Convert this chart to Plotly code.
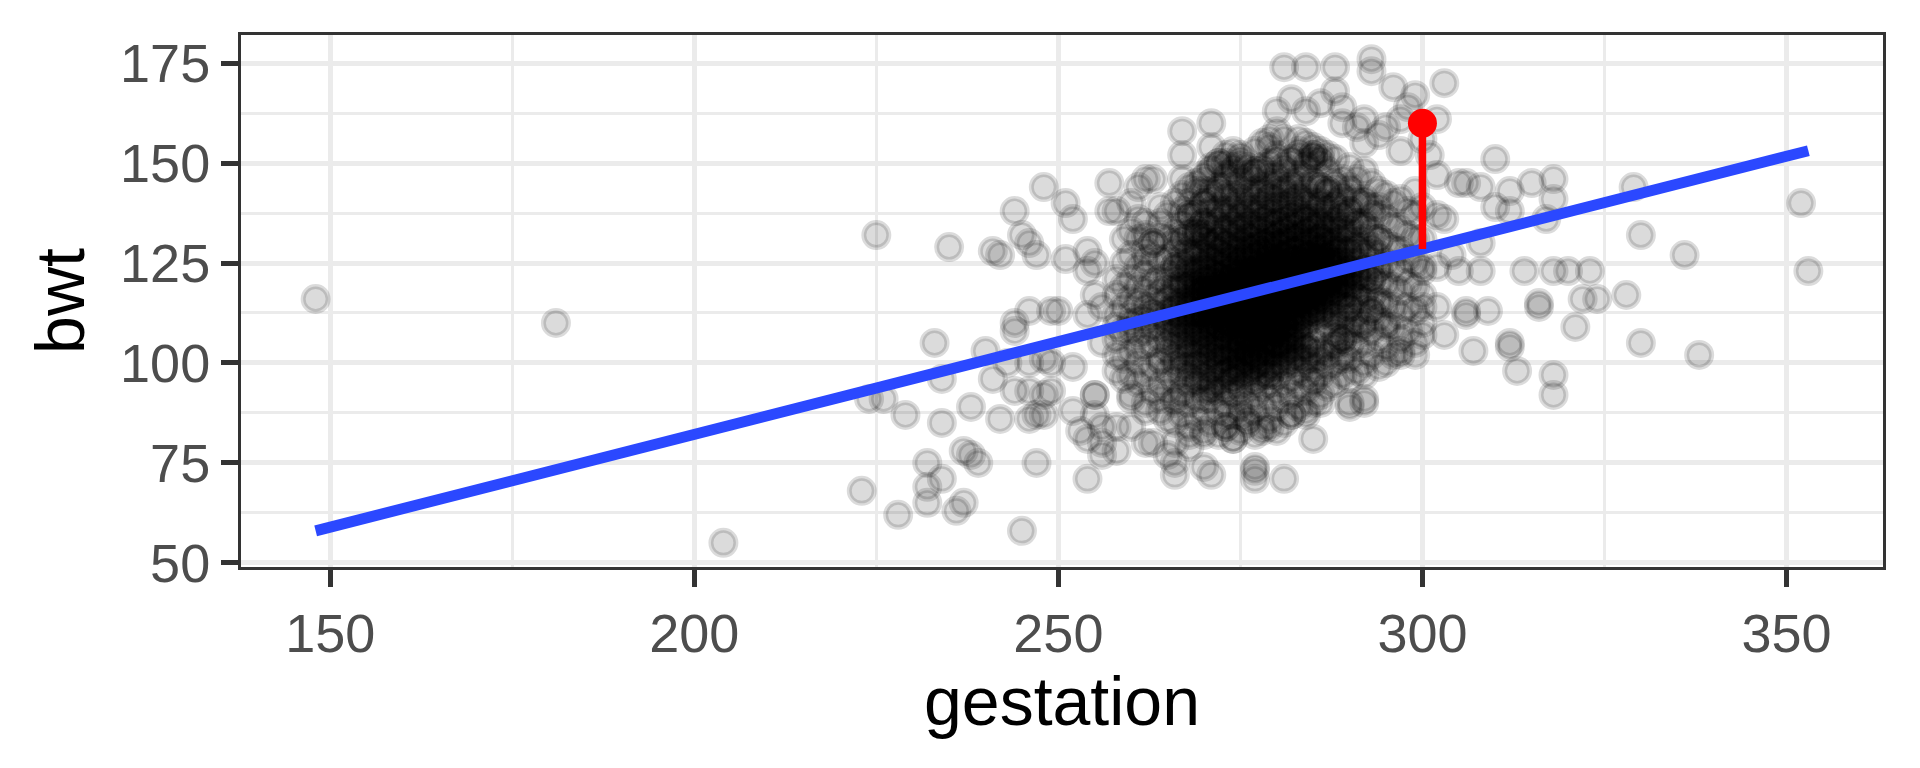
import plotly.graph_objects as go

# ---------------- data ----------------
# scattered / peripheral points: gestation (days), bwt (oz)
outer_gestation = [
    148, 181, 204,
    225, 235, 241, 242, 244, 245, 246, 247, 248, 251, 252, 251, 254, 255, 254,
    257, 257, 258, 261, 263, 260, 261, 260, 259, 262, 263, 262, 264, 267, 267,
    267, 271, 271, 270, 268, 269, 270, 281, 284, 288, 282, 280, 284, 286, 288,
    289, 279, 283, 275, 273, 293, 293,
    233, 240, 234, 241, 244, 246, 244, 243, 246, 246, 244, 248, 249, 224, 226,
    229, 234, 238, 242, 246, 247, 248, 232, 237, 238, 239, 247, 232, 234, 232,
    228, 236, 237, 245, 223, 249, 250, 255, 254, 256, 249, 252, 248, 255, 255,
    252, 255, 256, 253, 254, 256, 258, 256, 260, 262, 258, 254, 260, 260, 262,
    261, 258, 256, 265, 264, 266, 266, 268, 268, 266, 271, 277, 277, 281, 274,
    275, 273, 279, 285, 282, 284, 286, 290, 266, 270, 271, 267, 275, 279, 285,
    289, 288, 292,
    352, 353, 330, 336, 329, 330, 338, 328, 324, 322, 323, 320, 318, 314, 321,
    318, 318, 313, 312, 312, 316, 316, 318, 318, 317, 315, 312, 310, 312, 310,
    308, 309, 307, 308, 303, 296, 299, 302, 301, 302, 299, 305, 306, 308, 303,
    302, 305, 306, 303, 300, 299, 295, 292, 290, 292, 295, 297, 300, 302, 306,
    300, 304,
    292, 295, 297, 298, 262, 292, 294, 297, 300, 302, 277, 285, 286, 286, 285,
    287, 289, 291, 276, 278, 273, 270, 270, 277, 265, 264, 263, 297,
]
outer_bwt = [
    116, 110, 55,
    132, 129, 128, 127, 138, 132, 130, 127, 144, 140, 136, 126, 128, 125, 123,
    145, 138, 138, 144, 146, 140, 136, 133, 131, 132, 130, 126, 135, 158, 152,
    146, 160, 154, 143, 137, 133, 132, 174, 174, 174, 166, 163, 163, 165, 168,
    164, 156, 156, 150, 150, 176, 173,
    105, 103, 96, 96, 108, 113, 110, 100, 100, 93, 93, 92, 93, 91, 91,
    87, 85, 89, 86, 86, 87, 87, 75, 78, 77, 75, 75, 69, 71, 65,
    62, 63, 65, 58, 68, 113, 113, 117, 112, 114, 100, 99, 101, 92, 92,
    88, 87, 84, 83, 81, 80, 78, 77, 84, 80, 84, 71, 97, 91, 88,
    104, 102, 105, 105, 100, 75, 72, 79, 82, 80, 72, 73, 71, 71, 81,
    87, 84, 84, 81, 87, 87, 90, 90, 90, 91, 93, 93, 99, 97, 96,
    101, 107, 91,
    140, 123, 132, 127, 144, 105, 102, 117, 116, 116, 123, 123, 123, 123, 109,
    97, 92, 98, 105, 104, 115, 114, 146, 141, 136, 145, 143, 139, 138, 151,
    123, 113, 103, 130, 170, 169, 167, 161, 152, 147, 143, 145, 145, 144, 136,
    124, 123, 113, 107, 107, 102, 109, 90, 89, 97, 100, 102, 114, 114, 112,
    123, 127,
    161, 159, 161, 164, 146, 155, 157, 153, 156, 137, 148, 152, 153, 151, 154,
    152, 160, 159, 86, 83, 87, 82, 74, 74, 77, 91, 80, 103,
]

# dense core: birth weights listed per gestation day
core_days = [258, 259, 260, 261, 262, 263, 264, 265, 266, 267, 268, 269, 270,
             271, 272, 273, 274, 275, 276, 277, 278, 279, 280, 281, 282, 283,
             284, 285, 286, 287, 288, 289, 290, 291, 292, 293, 294, 295, 296,
             297, 298, 299, 300]
core_bwt = [
    [98, 106, 112, 117, 121, 109],
    [101, 108, 114, 119, 125, 96],
    [92, 103, 108, 112, 116, 121, 127, 110],
    [95, 100, 107, 111, 115, 119, 124, 131],
    [90, 97, 104, 108, 111, 114, 118, 122, 128, 135],
    [93, 99, 105, 109, 113, 116, 120, 125, 130, 112],
    [88, 95, 101, 106, 109, 112, 115, 118, 121, 126, 132, 139],
    [86, 93, 98, 103, 107, 110, 113, 116, 119, 122, 126, 131, 137, 111],
    [85, 91, 96, 100, 104, 107, 110, 112, 115, 118, 121, 124, 128, 133, 140, 113],
    [87, 92, 97, 101, 104, 107, 109, 112, 114, 116, 119, 121, 124, 127, 131, 135, 142, 110],
    [84, 90, 95, 99, 102, 105, 108, 110, 112, 114, 116, 118, 120, 122, 125, 128, 132, 137, 144, 113],
    [86, 91, 96, 99, 102, 105, 107, 109, 111, 113, 115, 117, 119, 121, 123, 126, 129, 133, 138, 145, 112, 118],
    [83, 88, 93, 97, 100, 103, 105, 107, 109, 111, 113, 114, 116, 118, 119, 121, 123, 125, 128, 131, 135, 140, 147, 112, 117, 120],
    [85, 91, 95, 99, 102, 104, 107, 109, 111, 113, 115, 117, 119, 121, 123, 126, 129, 132, 136, 141, 148, 114, 118, 110],
    [82, 88, 93, 97, 100, 103, 105, 107, 109, 110, 112, 114, 115, 117, 118, 120, 122, 124, 126, 128, 131, 134, 138, 143, 150, 116, 119, 113],
    [84, 90, 94, 98, 101, 103, 106, 108, 110, 111, 113, 115, 116, 118, 119, 121, 123, 125, 127, 130, 133, 137, 141, 146, 114, 117, 120, 109],
    [81, 87, 92, 96, 99, 102, 104, 106, 108, 110, 111, 113, 114, 116, 117, 119, 120, 122, 124, 126, 128, 131, 134, 138, 142, 148, 115, 118, 112, 121],
    [83, 89, 93, 97, 100, 102, 104, 106, 108, 109, 111, 112, 114, 115, 117, 118, 119, 121, 122, 124, 126, 128, 130, 133, 136, 140, 145, 152, 116, 120, 113, 110],
    [85, 90, 95, 98, 101, 103, 105, 107, 109, 110, 112, 114, 115, 117, 118, 120, 121, 123, 125, 127, 129, 132, 135, 139, 143, 149, 116, 119, 113, 122],
    [82, 88, 92, 96, 99, 102, 104, 106, 108, 110, 111, 113, 114, 116, 117, 119, 120, 122, 123, 125, 127, 129, 131, 134, 137, 141, 146, 153, 118, 121, 115, 112],
    [84, 89, 94, 97, 100, 103, 105, 107, 109, 111, 112, 114, 115, 117, 118, 120, 121, 123, 124, 126, 128, 130, 133, 136, 139, 143, 148, 155, 119, 116, 122, 113],
    [86, 91, 95, 99, 102, 104, 106, 108, 110, 112, 113, 115, 116, 118, 119, 121, 122, 124, 126, 128, 130, 132, 135, 138, 142, 147, 154, 120, 117, 123],
    [83, 89, 93, 97, 100, 103, 105, 107, 109, 111, 113, 114, 116, 117, 119, 120, 122, 123, 125, 126, 128, 130, 132, 135, 138, 141, 145, 151, 158, 121, 118, 124],
    [85, 91, 95, 99, 102, 105, 107, 109, 111, 113, 114, 116, 117, 119, 120, 122, 123, 125, 127, 129, 131, 133, 136, 139, 143, 148, 156, 121, 118, 124],
    [87, 92, 96, 100, 103, 106, 108, 110, 112, 114, 115, 117, 118, 120, 121, 123, 124, 126, 128, 130, 132, 134, 137, 140, 144, 150, 122, 119, 125, 116],
    [89, 94, 98, 101, 104, 107, 109, 111, 113, 115, 116, 118, 119, 121, 122, 124, 126, 128, 130, 132, 135, 138, 142, 147, 153, 120, 123, 117],
    [88, 93, 97, 101, 104, 107, 109, 112, 114, 116, 117, 119, 120, 122, 123, 125, 127, 129, 131, 133, 136, 139, 143, 149, 121, 124, 118, 155],
    [90, 95, 99, 103, 111, 113, 115, 117, 118, 120, 121, 123, 125, 127, 129, 131, 134, 137, 141, 146, 152, 122, 119, 126, 116, 113],
    [92, 97, 101, 112, 114, 116, 118, 120, 121, 123, 125, 127, 129, 131, 134, 137, 140, 144, 150, 122, 119, 126, 117, 132],
    [94, 99, 102, 112, 115, 117, 119, 121, 123, 125, 127, 129, 131, 133, 136, 139, 143, 148, 122, 120, 126, 118],
    [95, 100, 104, 108, 112, 115, 118, 120, 122, 124, 126, 128, 130, 133, 136, 140, 145, 151, 121, 125],
    [97, 102, 106, 110, 114, 117, 120, 122, 124, 126, 128, 131, 134, 137, 141, 146, 123, 119],
    [96, 101, 105, 110, 114, 117, 120, 123, 125, 128, 131, 134, 138, 143, 149, 122],
    [98, 104, 108, 112, 116, 119, 122, 125, 128, 131, 135, 140, 146, 121],
    [100, 105, 110, 114, 118, 121, 124, 127, 131, 135, 141, 148],
    [102, 108, 113, 117, 121, 124, 128, 133, 139, 145],
    [99, 106, 111, 116, 120, 124, 127, 131, 137, 143],
    [104, 110, 115, 120, 125, 130, 136, 142],
    [102, 109, 114, 119, 124, 129, 134, 140],
    [106, 112, 118, 123, 128, 134, 141],
    [108, 114, 120, 126, 132, 138],
    [105, 113, 119, 125, 131, 137],
    [110, 117, 124, 131, 139],
]

# second layer of the densest part (more births on the same days)
core2_days = [266, 267, 268, 269, 270, 271, 272, 273, 274, 275, 276, 277, 278,
              279, 280, 281, 282, 283, 284, 285, 286, 287, 288, 289, 290, 291,
              292, 293, 294]
core2_bwt = [
    [101, 108, 114, 119, 124, 130],
    [99, 105, 111, 115, 120, 125, 131, 138],
    [97, 103, 107, 111, 115, 119, 123, 127, 133, 140],
    [95, 100, 104, 108, 112, 116, 120, 124, 128, 132, 137, 143],
    [96, 101, 105, 108, 112, 115, 118, 121, 124, 127, 131, 135, 140, 146],
    [94, 98, 102, 106, 109, 112, 115, 118, 121, 124, 127, 130, 134, 138, 143, 149],
    [95, 99, 103, 106, 109, 112, 114, 117, 119, 122, 125, 128, 131, 135, 139, 144, 150, 101],
    [93, 97, 101, 104, 107, 110, 113, 116, 118, 121, 124, 127, 130, 134, 138, 142, 147, 152],
    [96, 100, 103, 106, 109, 112, 114, 117, 119, 121, 123, 126, 129, 132, 135, 139, 144, 149, 153, 98],
    [94, 98, 101, 104, 107, 110, 113, 115, 118, 120, 123, 125, 128, 131, 134, 137, 141, 146, 151, 105],
    [97, 100, 103, 106, 108, 111, 113, 116, 118, 121, 123, 126, 128, 131, 134, 138, 142, 147, 102, 110],
    [95, 99, 102, 105, 107, 110, 112, 115, 117, 119, 122, 124, 127, 129, 132, 135, 139, 143, 148, 101, 109, 114],
    [98, 101, 104, 106, 109, 111, 114, 116, 118, 121, 123, 125, 128, 130, 133, 136, 140, 144, 149, 103, 108, 113],
    [97, 100, 103, 106, 108, 111, 114, 116, 119, 121, 124, 126, 129, 131, 134, 137, 141, 145, 150, 105, 110, 127],
    [99, 102, 105, 108, 110, 113, 115, 118, 120, 122, 125, 127, 130, 132, 135, 139, 143, 147, 152, 104, 112, 117],
    [100, 103, 106, 109, 112, 115, 117, 120, 122, 125, 127, 130, 133, 136, 140, 144, 149, 104, 110, 119],
    [101, 104, 107, 110, 113, 116, 118, 121, 123, 126, 128, 131, 134, 137, 141, 145, 151, 106, 112, 120],
    [102, 106, 109, 112, 115, 118, 120, 123, 125, 128, 131, 134, 137, 141, 146, 152, 111, 117],
    [100, 104, 110, 113, 116, 119, 122, 124, 127, 130, 133, 136, 140, 144, 150, 115, 121, 126],
    [101, 105, 112, 115, 118, 121, 124, 127, 130, 133, 136, 140, 145, 151, 117, 123],
    [103, 108, 113, 116, 119, 122, 125, 128, 131, 135, 139, 144, 120, 127],
    [104, 110, 114, 118, 121, 124, 127, 130, 134, 138, 143, 120],
    [105, 111, 116, 119, 122, 125, 128, 131, 135, 139, 144, 118],
    [106, 112, 117, 121, 125, 129, 133, 137, 142, 120],
    [108, 114, 119, 124, 128, 133, 138, 144],
    [110, 117, 123, 129, 135, 141],
    [109, 116, 122, 128, 134, 140],
    [113, 121, 129, 137],
    [115, 123, 131, 139],
]

# fitted regression line (end points)
fit_gestation = [148, 353]
fit_bwt = [58.0, 153.1]

# highlighted observation and its residual
hl_gestation = [300]
hl_bwt = [160]
hl_fitted = [128.5]

x_ticks = [150, 200, 250, 300, 350]
y_ticks = [50, 75, 100, 125, 150, 175]
x_minor = [175, 225, 275, 325]
y_minor = [62.5, 87.5, 112.5, 137.5, 162.5]

# ---------------- assemble ----------------
gest_all = list(outer_gestation)
bwt_all = list(outer_bwt)
for days, lists in ((core_days, core_bwt), (core2_days, core2_bwt)):
    for d, vals in zip(days, lists):
        gest_all.extend([d] * len(vals))
        bwt_all.extend(vals)

FONT = "Liberation Sans, Arial, Helvetica, sans-serif"
pt_col = "rgba(0,0,0,0.14)"

fig = go.Figure()
fig.add_trace(go.Scatter(
    x=gest_all, y=bwt_all, mode="markers",
    marker=dict(size=25, color=pt_col, line=dict(color=pt_col, width=5)),
    hoverinfo="skip", showlegend=False,
))
fig.add_trace(go.Scatter(
    x=fit_gestation, y=fit_bwt, mode="lines",
    line=dict(color="#2B48FF", width=11), showlegend=False, hoverinfo="skip",
))
fig.add_trace(go.Scatter(
    x=hl_gestation * 2, y=hl_bwt + hl_fitted, mode="lines",
    line=dict(color="#FF0000", width=7.5), showlegend=False, hoverinfo="skip",
))
fig.add_trace(go.Scatter(
    x=hl_gestation, y=hl_bwt, mode="markers",
    marker=dict(size=29, color="#FF0000"), showlegend=False, hoverinfo="skip",
))

axis_common = dict(
    showgrid=True, gridcolor="#EBEBEB", gridwidth=5,
    zeroline=False, showline=True, mirror=True,
    linecolor="#333333", linewidth=3,
    ticks="outside", ticklen=17, tickwidth=5, tickcolor="#333333",
    tickfont=dict(family=FONT, size=54, color="#4D4D4D"),
)

fig.update_xaxes(
    range=[137.75, 363.25], tickvals=x_ticks, ticktext=[str(v) for v in x_ticks],
    minor=dict(tickvals=x_minor, showgrid=True, gridcolor="#EBEBEB", gridwidth=2.5, ticks=""),
    title=dict(text="gestation", font=dict(family=FONT, size=68, color="#000000"), standoff=14),
    **axis_common,
)
fig.update_yaxes(
    range=[48.95, 182.05], tickvals=y_ticks, ticktext=[str(v) for v in y_ticks],
    minor=dict(tickvals=y_minor, showgrid=True, gridcolor="#EBEBEB", gridwidth=2.5, ticks=""),
    title=dict(text="bwt", font=dict(family=FONT, size=68, color="#000000"), standoff=14),
    **axis_common,
)

fig.update_layout(
    width=1920, height=768,
    margin=dict(l=241, r=37, t=35, b=201, autoexpand=False),
    paper_bgcolor="white", plot_bgcolor="white",
    font=dict(family=FONT),
)

fig.write_html("out.html")
